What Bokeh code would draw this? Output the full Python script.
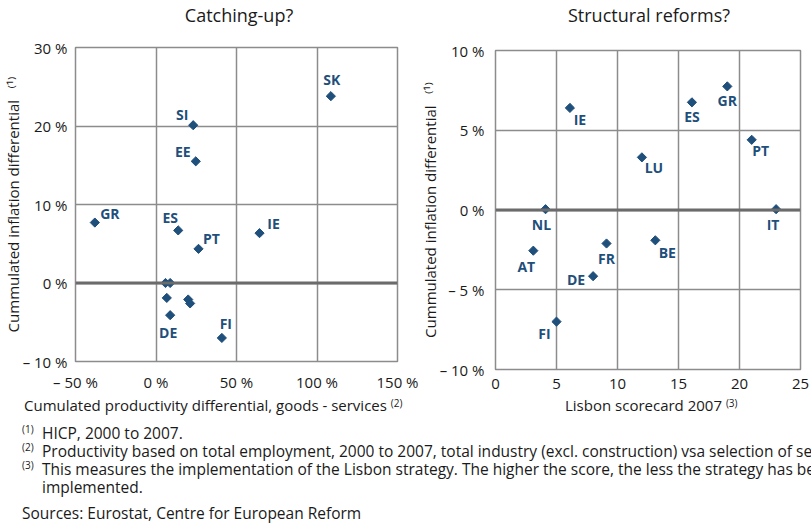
import math
from bokeh.plotting import figure
from bokeh.models import Range1d, FixedTicker, Span, Title, ColumnDataSource, Div
from bokeh.layouts import row, column
from bokeh.core.properties import value
from bokeh.embed import file_html
from bokeh.resources import INLINE

# ---------------- data ----------------
left_countries = ["SK", "SI", "EE", "GR", "ES", "PT", "IE", "", "", "", "", "", "DE", "FI"]
left_productivity = [108.6, 23.1, 24.7, -38.0, 13.8, 26.4, 64.3, 5.9, 8.8, 6.7, 20.0, 21.2, 8.8, 40.9]
left_inflation = [23.8, 20.1, 15.5, 7.7, 6.7, 4.35, 6.35, 0.0, 0.0, -1.9, -2.1, -2.6, -4.1, -7.0]

right_countries = ["IE", "ES", "GR", "PT", "LU", "NL", "IT", "AT", "FR", "BE", "DE", "FI"]
right_scorecard = [6.1, 16.1, 19.0, 21.0, 12.0, 4.1, 23.0, 3.1, 9.1, 13.1, 8.0, 5.0]
right_inflation = [6.4, 6.75, 7.75, 4.4, 3.3, 0.05, 0.05, -2.55, -2.1, -1.9, -4.15, -7.0]

left_x_ticks = [-50, 0, 50, 100, 150]
left_x_labels = ["\u2013 50 %", "0 %", "50 %", "100 %", "150 %"]
left_y_ticks = [-10, 0, 10, 20, 30]
left_y_labels = ["\u2013 10 %", "0 %", "10 %", "20 %", "30 %"]
right_x_ticks = [0, 5, 10, 15, 20, 25]
right_x_labels = ["0", "5", "10", "15", "20", "25"]
right_y_ticks = [-10, -5, 0, 5, 10]
right_y_labels = ["\u2013 10 %", "\u2013 5 %", "0 %", "5 %", "10 %"]

left_title = "Catching-up?"
right_title = "Structural reforms?"
y_title = "Cummulated inflation differential \u2002\u207d\u00b9\u207e"
left_x_title = ("Cumulated productivity differential, goods - services", "(2)")
right_x_title = ("Lisbon scorecard 2007", "(3)")

footnotes = [
    ("(1)", "HICP, 2000 to 2007."),
    ("(2)", "Productivity based on total employment, 2000 to 2007, total industry "
            "(excl. construction) vsa selection of services"),
    ("(3)", "This measures the implementation of the Lisbon strategy. The higher the "
            "score, the less the strategy has been"),
    ("", "implemented."),
]
source_note = "Sources: Eurostat, Centre for European Reform"

# ---------------- style ----------------
FONT = "Open Sans"
BLUE = "#1f4f7b"
GRID = "#8c8c8c"
TXT = "#1a1a1a"

# label offsets in screen pixels (style, not data)
left_dx = [1, -11, -13, 15, -8, 13, 14, 0, 0, 0, 0, 0, -2, 4]
left_dy = [-17, -11, -10, -9, -13, -10, -10, 0, 0, 0, 0, 0, 17, -14]
right_dx = [10, 0, 0, 9, 12, -4, -3, -7, 0, 12, -17, -12]
right_dy = [12, 14, 14, 11, 10, 15, 15, 16, 15, 12, 3, 12]


def make_chart(xs, ys, names, dx, dy, xr, yr, xt, xl, yt, yl, w, h, borders,
               xstand, ystand):
    bl, br, bt, bb = borders
    p = figure(width=w, height=h, x_range=Range1d(*xr), y_range=Range1d(*yr),
               output_backend="svg", toolbar_location=None,
               min_border_left=bl, min_border_right=br,
               min_border_top=bt, min_border_bottom=bb,
               background_fill_color="white", border_fill_color="white",
               outline_line_color=GRID, outline_line_width=1.5)
    p.xaxis.ticker = FixedTicker(ticks=xt)
    p.yaxis.ticker = FixedTicker(ticks=yt)
    p.xaxis.major_label_overrides = {t: s for t, s in zip(xt, xl)}
    p.yaxis.major_label_overrides = {t: s for t, s in zip(yt, yl)}
    p.xgrid.ticker = FixedTicker(ticks=xt)
    p.ygrid.ticker = FixedTicker(ticks=yt)
    for ax in (p.xaxis, p.yaxis):
        ax.axis_line_color = None
        ax.major_tick_line_color = None
        ax.minor_tick_line_color = None
        ax.major_tick_out = 0
        ax.major_tick_in = 0
        ax.major_label_text_font = FONT
        ax.major_label_text_font_size = "15px"
        ax.major_label_text_color = TXT
    p.xaxis.major_label_standoff = xstand
    p.yaxis.major_label_standoff = ystand
    for g in (p.xgrid, p.ygrid):
        g.grid_line_color = GRID
        g.grid_line_width = 1.5
    p.add_layout(Span(location=0, dimension="width", line_color="#6b6b6b",
                      line_width=3))
    src = ColumnDataSource(dict(x=xs, y=ys, name=names, dx=dx, dy=dy))
    p.scatter("x", "y", source=src, marker="square", angle=math.pi / 4,
              size=6.5, color=BLUE)
    p.text("x", "y", text="name", source=src, x_offset="dx", y_offset="dy",
           text_font=value(FONT), text_font_size=value("14px"),
           text_font_style="bold", text_color=BLUE,
           text_align="center", text_baseline="middle")
    return p


# left figure: page y 30..396, frame 47..361 ; right figure: page y 33..396, frame 50..369
p1 = make_chart(left_productivity, left_inflation, left_countries, left_dx, left_dy,
                (-50, 150), (-10, 30), left_x_ticks, left_x_labels,
                left_y_ticks, left_y_labels, 420, 366, (75, 23, 17, 35), 10, 8)
p2 = make_chart(right_scorecard, right_inflation, right_countries, right_dx, right_dy,
                (0, 25), (-10, 10), right_x_ticks, right_x_labels,
                right_y_ticks, right_y_labels, 391, 363, (74, 11, 17, 27), 9, 11)

p1.add_layout(Title(text=y_title, align="center", offset=18, standoff=-6,
                    text_font=FONT, text_font_size="15px", text_color=TXT,
                    text_font_style="normal"), "left")
p2.add_layout(Title(text=y_title, align="center", offset=27, standoff=-6,
                    text_font=FONT, text_font_size="15px", text_color=TXT,
                    text_font_style="normal"), "left")

BASE = "font-family:'Open Sans';color:#1a1a1a;white-space:nowrap;box-sizing:border-box;"


def text_div(html, width, height):
    return Div(text=html, width=width, height=height, margin=0,
               styles={"overflow-x": "clip", "overflow-y": "visible"})


def title_div(text, width, height, pad):
    html = ('<div style="%sfont-size:18px;line-height:30px;height:%dpx;'
            'text-align:center;padding-left:%dpx;width:%dpx;">%s</div>'
            % (BASE, height, pad, width, text))
    return text_div(html, width, height)


def xlabel_div(parts, width, pad):
    main, sup = parts
    html = ('<div style="%sfont-size:15px;line-height:18px;height:18px;'
            'padding-left:%dpx;width:%dpx;">%s <span style="font-size:10px;'
            'position:relative;top:-4px;">%s</span></div>'
            % (BASE, pad, width, main, sup))
    return text_div(html, width, 18)


t1 = title_div(left_title, 420, 30, 58)
t2 = title_div(right_title, 391, 33, 67)
x1 = xlabel_div(left_x_title, 420, 24)
x2 = xlabel_div(right_x_title, 391, 145)

line_tpl = ('<div style="position:relative;height:18px;line-height:18px;'
            'padding-left:20px;">'
            '<span style="position:absolute;left:0;top:-4px;font-size:10px;'
            'line-height:18px;">{}</span>{}</div>')
foot = ('<div style="' + BASE + 'font-size:15.5px;padding-left:22px;padding-top:10px;">'
        + "".join(line_tpl.format(s, t) for s, t in footnotes)
        + '<div style="margin-top:8px;height:18px;line-height:18px;">'
        + source_note + '</div></div>')
fdiv = text_div(foot, 811, 112)

layout = column(row(column(t1, p1, x1), column(t2, p2, x2)), fdiv)
open("out.html", "w").write(file_html(layout, INLINE))
